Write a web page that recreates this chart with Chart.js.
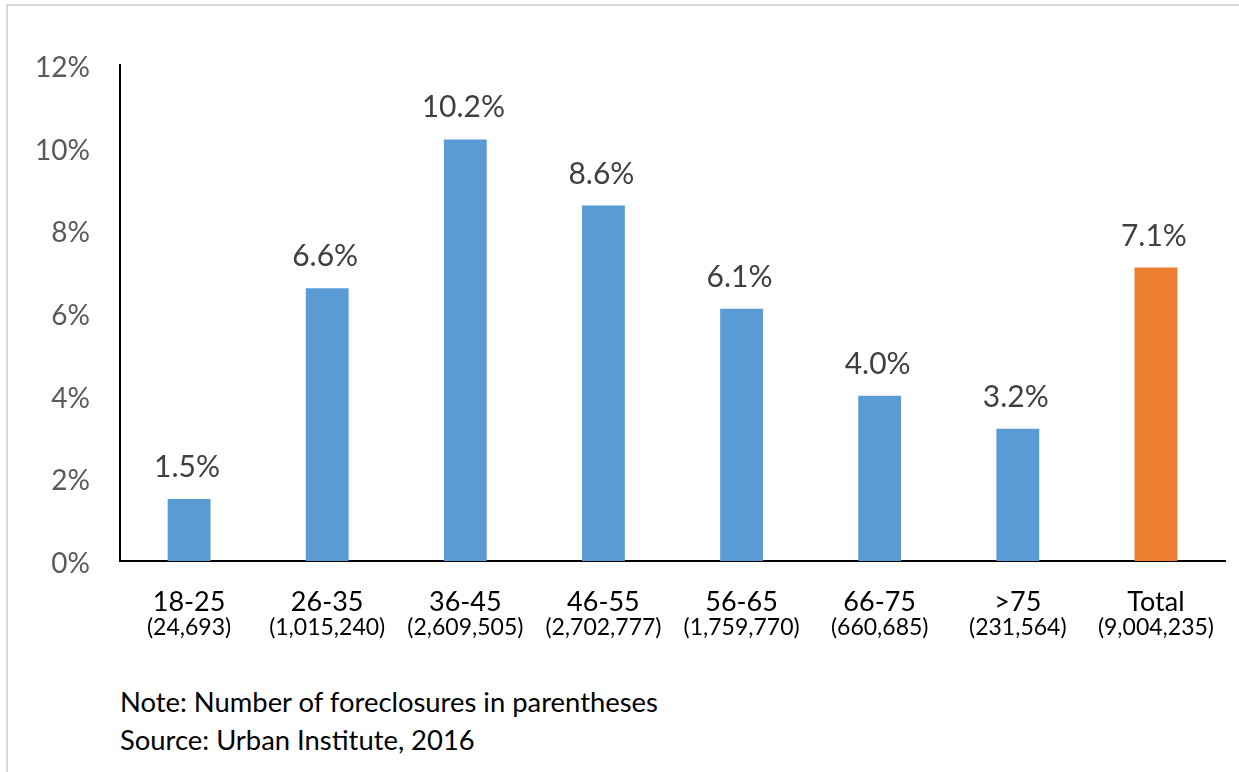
<!DOCTYPE html>
<html>
<head>
<meta charset="utf-8">
<script src="https://cdn.jsdelivr.net/npm/chart.js@4.4.1/dist/chart.umd.min.js"></script>
<style>
  html, body { margin: 0; padding: 0; background: #fff; }
  #page { position: relative; width: 1239px; height: 772px; overflow: hidden; background: #fff; font-family: Lato, "Open Sans", sans-serif; }
  #frame { position: absolute; left: 6px; top: 4px; width: 1300px; height: 800px; border-top: 2px solid #d9d9d9; border-left: 2px solid #d9d9d9; }
  #wrap { position: absolute; left: 0; top: 0; width: 1239px; height: 680px; }
  .note { position: absolute; left: 120px; font-size: 27.4px; color: #000; white-space: nowrap; }
</style>
</head>
<body>
<div id="page">
  <div id="frame"></div>
  <div id="wrap"><canvas id="c"></canvas></div>
  <div class="note" style="top:685px;">Note: Number of foreclosures in parentheses</div>
  <div class="note" style="top:723px;">Source: Urban Institute, 2016</div>
</div>
<script>
const categories = ["18-25", "26-35", "36-45", "46-55", "56-65", "66-75", ">75", "Total"];
const foreclosureCounts = ["(24,693)", "(1,015,240)", "(2,609,505)", "(2,702,777)", "(1,759,770)", "(660,685)", "(231,564)", "(9,004,235)"];
const rates = [1.5, 6.6, 10.2, 8.6, 6.1, 4.0, 3.2, 7.1];
const barColors = ["#5B9BD5", "#5B9BD5", "#5B9BD5", "#5B9BD5", "#5B9BD5", "#5B9BD5", "#5B9BD5", "#ED7D31"];
const yTicks = [0, 2, 4, 6, 8, 10, 12];

const valueLabels = {
  id: 'valueLabels',
  afterDatasetsDraw(chart) {
    const ctx = chart.ctx;
    const meta = chart.getDatasetMeta(0);
    ctx.save();
    ctx.font = '30px Lato, "Open Sans", sans-serif';
    ctx.fillStyle = '#404040';
    ctx.textAlign = 'center';
    ctx.textBaseline = 'alphabetic';
    meta.data.forEach((bar, i) => {
      ctx.fillText(rates[i].toFixed(1) + '%', bar.x - 2, bar.y - 22);
    });
    ctx.restore();
  }
};

new Chart(document.getElementById('c'), {
  type: 'bar',
  data: {
    labels: categories,
    datasets: [{
      data: rates,
      backgroundColor: barColors,
      borderWidth: 0,
      barPercentage: 0.31,
      categoryPercentage: 1.0
    }]
  },
  options: {
    responsive: true,
    maintainAspectRatio: false,
    animation: false,
    devicePixelRatio: 1,
    layout: { padding: { left: 0, top: 65, right: 14, bottom: 27 } },
    plugins: { legend: { display: false }, tooltip: { enabled: false }, title: { display: false } },
    scales: {
      y: {
        min: 0, max: 12,
        afterBuildTicks(scale) { scale.ticks = yTicks.map(v => ({ value: v })); },
        afterFit(scale) { scale.width = 120; },
        grid: { display: false, drawTicks: false },
        border: { display: true, color: '#000', width: 2 },
        ticks: {
          padding: 30,
          labelOffset: 3,
          color: '#595959',
          font: { family: 'Lato, "Open Sans", sans-serif', size: 28 },
          callback: v => v + '%'
        }
      },
      x: {
        position: 'bottom',
        afterFit(scale) { scale.height = 52; },
        grid: { display: false, drawTicks: false },
        border: { display: true, color: '#000', width: 2 },
        ticks: {
          padding: 25,
          color: '#000',
          maxRotation: 0, autoSkip: false,
          font: { family: 'Lato, "Open Sans", sans-serif', size: 27 }
        }
      },
      x2: {
        type: 'category',
        position: 'bottom',
        labels: foreclosureCounts,
        offset: true,
        afterFit(scale) { scale.height = 40; },
        grid: { display: false, drawTicks: false },
        border: { display: false },
        ticks: {
          padding: 1,
          color: '#000',
          maxRotation: 0, autoSkip: false,
          font: { family: 'Lato, "Open Sans", sans-serif', size: 23 }
        }
      }
    }
  },
  plugins: [valueLabels]
});
</script>
</body>
</html>
